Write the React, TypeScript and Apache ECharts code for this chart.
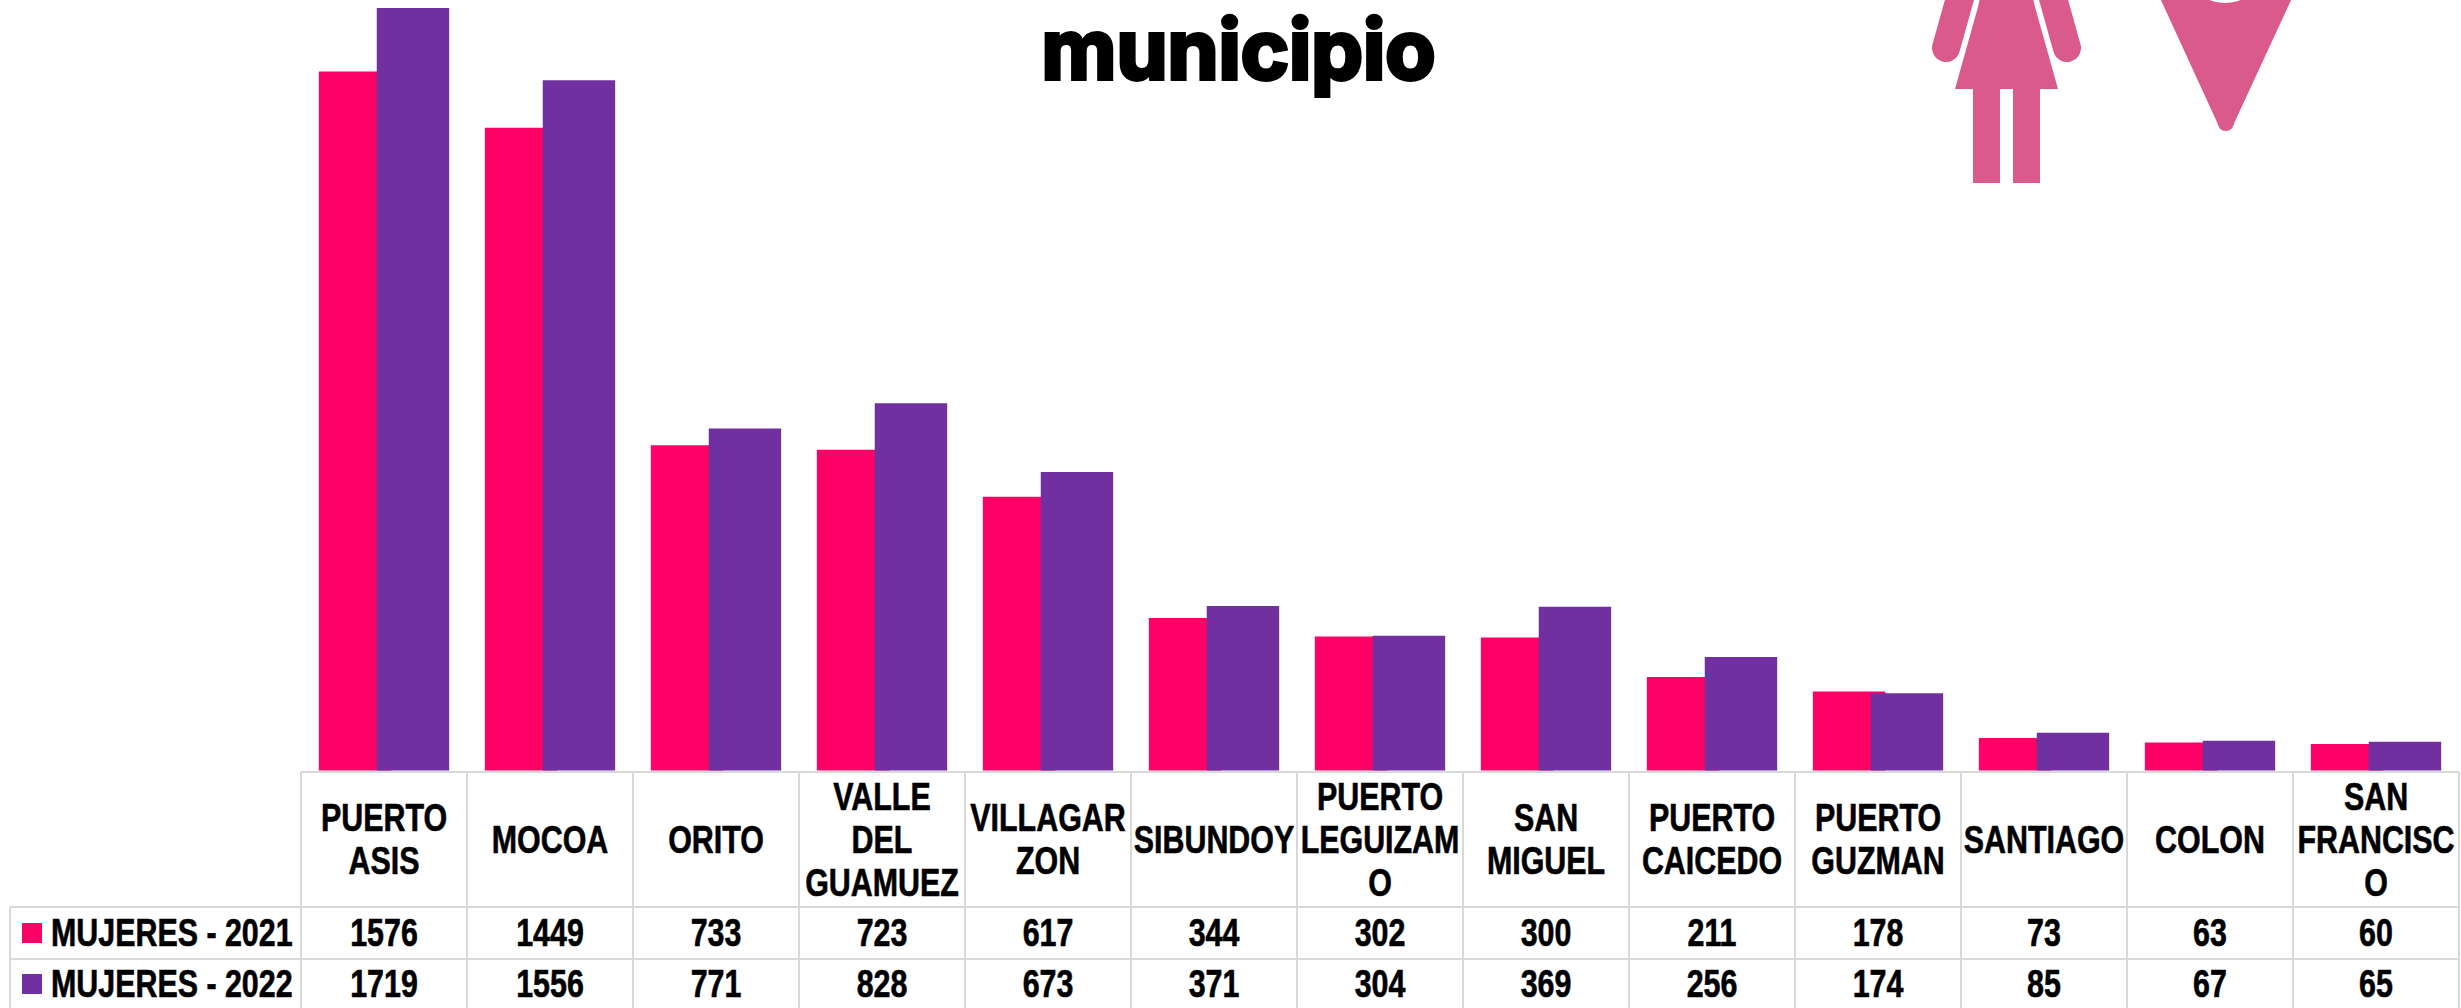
import React, { useEffect, useRef } from "react";
import * as echarts from "echarts";

const categoryLines = [
  "PUERTO\nASIS", "MOCOA", "ORITO", "VALLE\nDEL\nGUAMUEZ", "VILLAGAR\nZON", "SIBUNDOY",
  "PUERTO\nLEGUIZAM\nO", "SAN\nMIGUEL", "PUERTO\nCAICEDO", "PUERTO\nGUZMAN", "SANTIAGO", "COLON",
  "SAN\nFRANCISC\nO",
];
const categories = categoryLines.map((c) => c.replace(/\n/g, " "));
const mujeres2021 = [1576, 1449, 733, 723, 617, 344, 302, 300, 211, 178, 73, 63, 60];
const mujeres2022 = [1719, 1556, 771, 828, 673, 371, 304, 369, 256, 174, 85, 67, 65];
const seriesNames = ["MUJERES - 2021", "MUJERES - 2022"];
const titleText = "municipio";

const RED = "#FF0066";
const PURPLE = "#7030A0";
const PINK = "#DB5A8C";
const LINE = "#D9D9D9";
const FONT = '700 38px "Liberation Sans"';
const SX = 0.8;

const TL = 301, CW = 166, LEFT = 10;
const Y0 = 772, Y1 = 907, Y2 = 959, YEND = 1008;
const TR = TL + CW * 13;

function txt(text: string, x: number, y: number, align = "center") {
  return {
    type: "text", x, y, scaleX: SX, silent: true,
    style: {
      text, font: FONT, fill: "#000", stroke: "#000", lineWidth: 0.6,
      textAlign: align, textVerticalAlign: "middle", lineHeight: 43,
    },
  };
}
function ln(x1: number, y1: number, x2: number, y2: number) {
  return { type: "line", silent: true, shape: { x1, y1, x2, y2 }, style: { stroke: LINE, lineWidth: 2 } };
}
function pts(points: number[][], fill = PINK) {
  return { type: "polygon", silent: true, shape: { points }, style: { fill } };
}

function tableGraphics() {
  const out: any[] = [];
  out.push(ln(TL, Y0, TR, Y0), ln(LEFT, Y1, TR, Y1), ln(LEFT, Y2, TR, Y2));
  out.push(ln(LEFT, Y1, LEFT, YEND));
  for (let i = 0; i <= 13; i++) out.push(ln(TL + CW * i, Y0, TL + CW * i, YEND));
  categoryLines.forEach((c, i) => {
    const cx = TL + CW * (i + 0.5);
    out.push(txt(c, cx, (Y0 + Y1) / 2));
    out.push(txt(String(mujeres2021[i]), cx, (Y1 + Y2) / 2));
    out.push(txt(String(mujeres2022[i]), cx, Y2 + 25));
  });
  out.push({ type: "rect", silent: true, shape: { x: 22, y: 923, width: 20, height: 20 }, style: { fill: RED } });
  out.push({ type: "rect", silent: true, shape: { x: 22, y: 974, width: 20, height: 20 }, style: { fill: PURPLE } });
  out.push(txt(seriesNames[0], 51, (Y1 + Y2) / 2, "left"));
  out.push(txt(seriesNames[1], 51, Y2 + 25, "left"));
  return out;
}

function iconGraphics() {
  const arm = (x1: number, x2: number) => ({
    type: "line", silent: true,
    shape: { x1, y1: -12, x2, y2: 48 },
    style: { stroke: PINK, lineWidth: 28, lineCap: "round" },
  });
  return [
    arm(1962.8, 1946), arm(2050.2, 2067),
    pts([[1980, -2], [2033, -2], [2035, 7], [2058, 89], [1955, 89], [1978, 7]]),
    { type: "rect", silent: true, shape: { x: 1973, y: 88, width: 27, height: 95 }, style: { fill: PINK } },
    { type: "rect", silent: true, shape: { x: 2013, y: 88, width: 27, height: 95 }, style: { fill: PINK } },
    pts([[2160, -2], [2292, -2], [2233.3, 125], [2218.3, 125]]),
    { type: "circle", silent: true, shape: { cx: 2225.8, cy: 123, r: 8 }, style: { fill: PINK } },
    { type: "circle", silent: true, shape: { cx: 2225, cy: -40, r: 43 }, style: { fill: "#fff" } },
  ];
}

export default function App() {
  const ref = useRef<HTMLDivElement>(null);
  useEffect(() => {
    const chart = echarts.init(ref.current!, undefined, { renderer: "svg" });
    chart.setOption({
      animation: false,
      backgroundColor: "#fff",
      grid: { left: TL, width: CW * 13, top: 0, height: 770.5, containLabel: false },
      xAxis: {
        type: "category", data: categories,
        axisLine: { show: false }, axisTick: { show: false }, axisLabel: { show: false },
      },
      yAxis: {
        type: "value", min: 0, max: 1737, show: false, splitLine: { show: false },
      },
      series: [
        { name: seriesNames[0], type: "bar", data: mujeres2021, barWidth: 72.4, barGap: "-20%", itemStyle: { color: RED } },
        { name: seriesNames[1], type: "bar", data: mujeres2022, barWidth: 72.4, barGap: "-20%", itemStyle: { color: PURPLE } },
      ],
      graphic: [
        ...tableGraphics(),
        ...iconGraphics(),
        {
          type: "text", x: 1238.5, y: 8.5, silent: true,
          style: {
            text: titleText, font: '700 82px "Inter"', fill: "#000",
            textAlign: "center",
            stroke: "#000", lineWidth: 4, lineJoin: "round",
          },
        },
      ],
    });
    return () => chart.dispose();
  }, []);
  return <div ref={ref} style={{ position: "absolute", left: 0, top: 0, width: 2461, height: 1008 }} />;
}
